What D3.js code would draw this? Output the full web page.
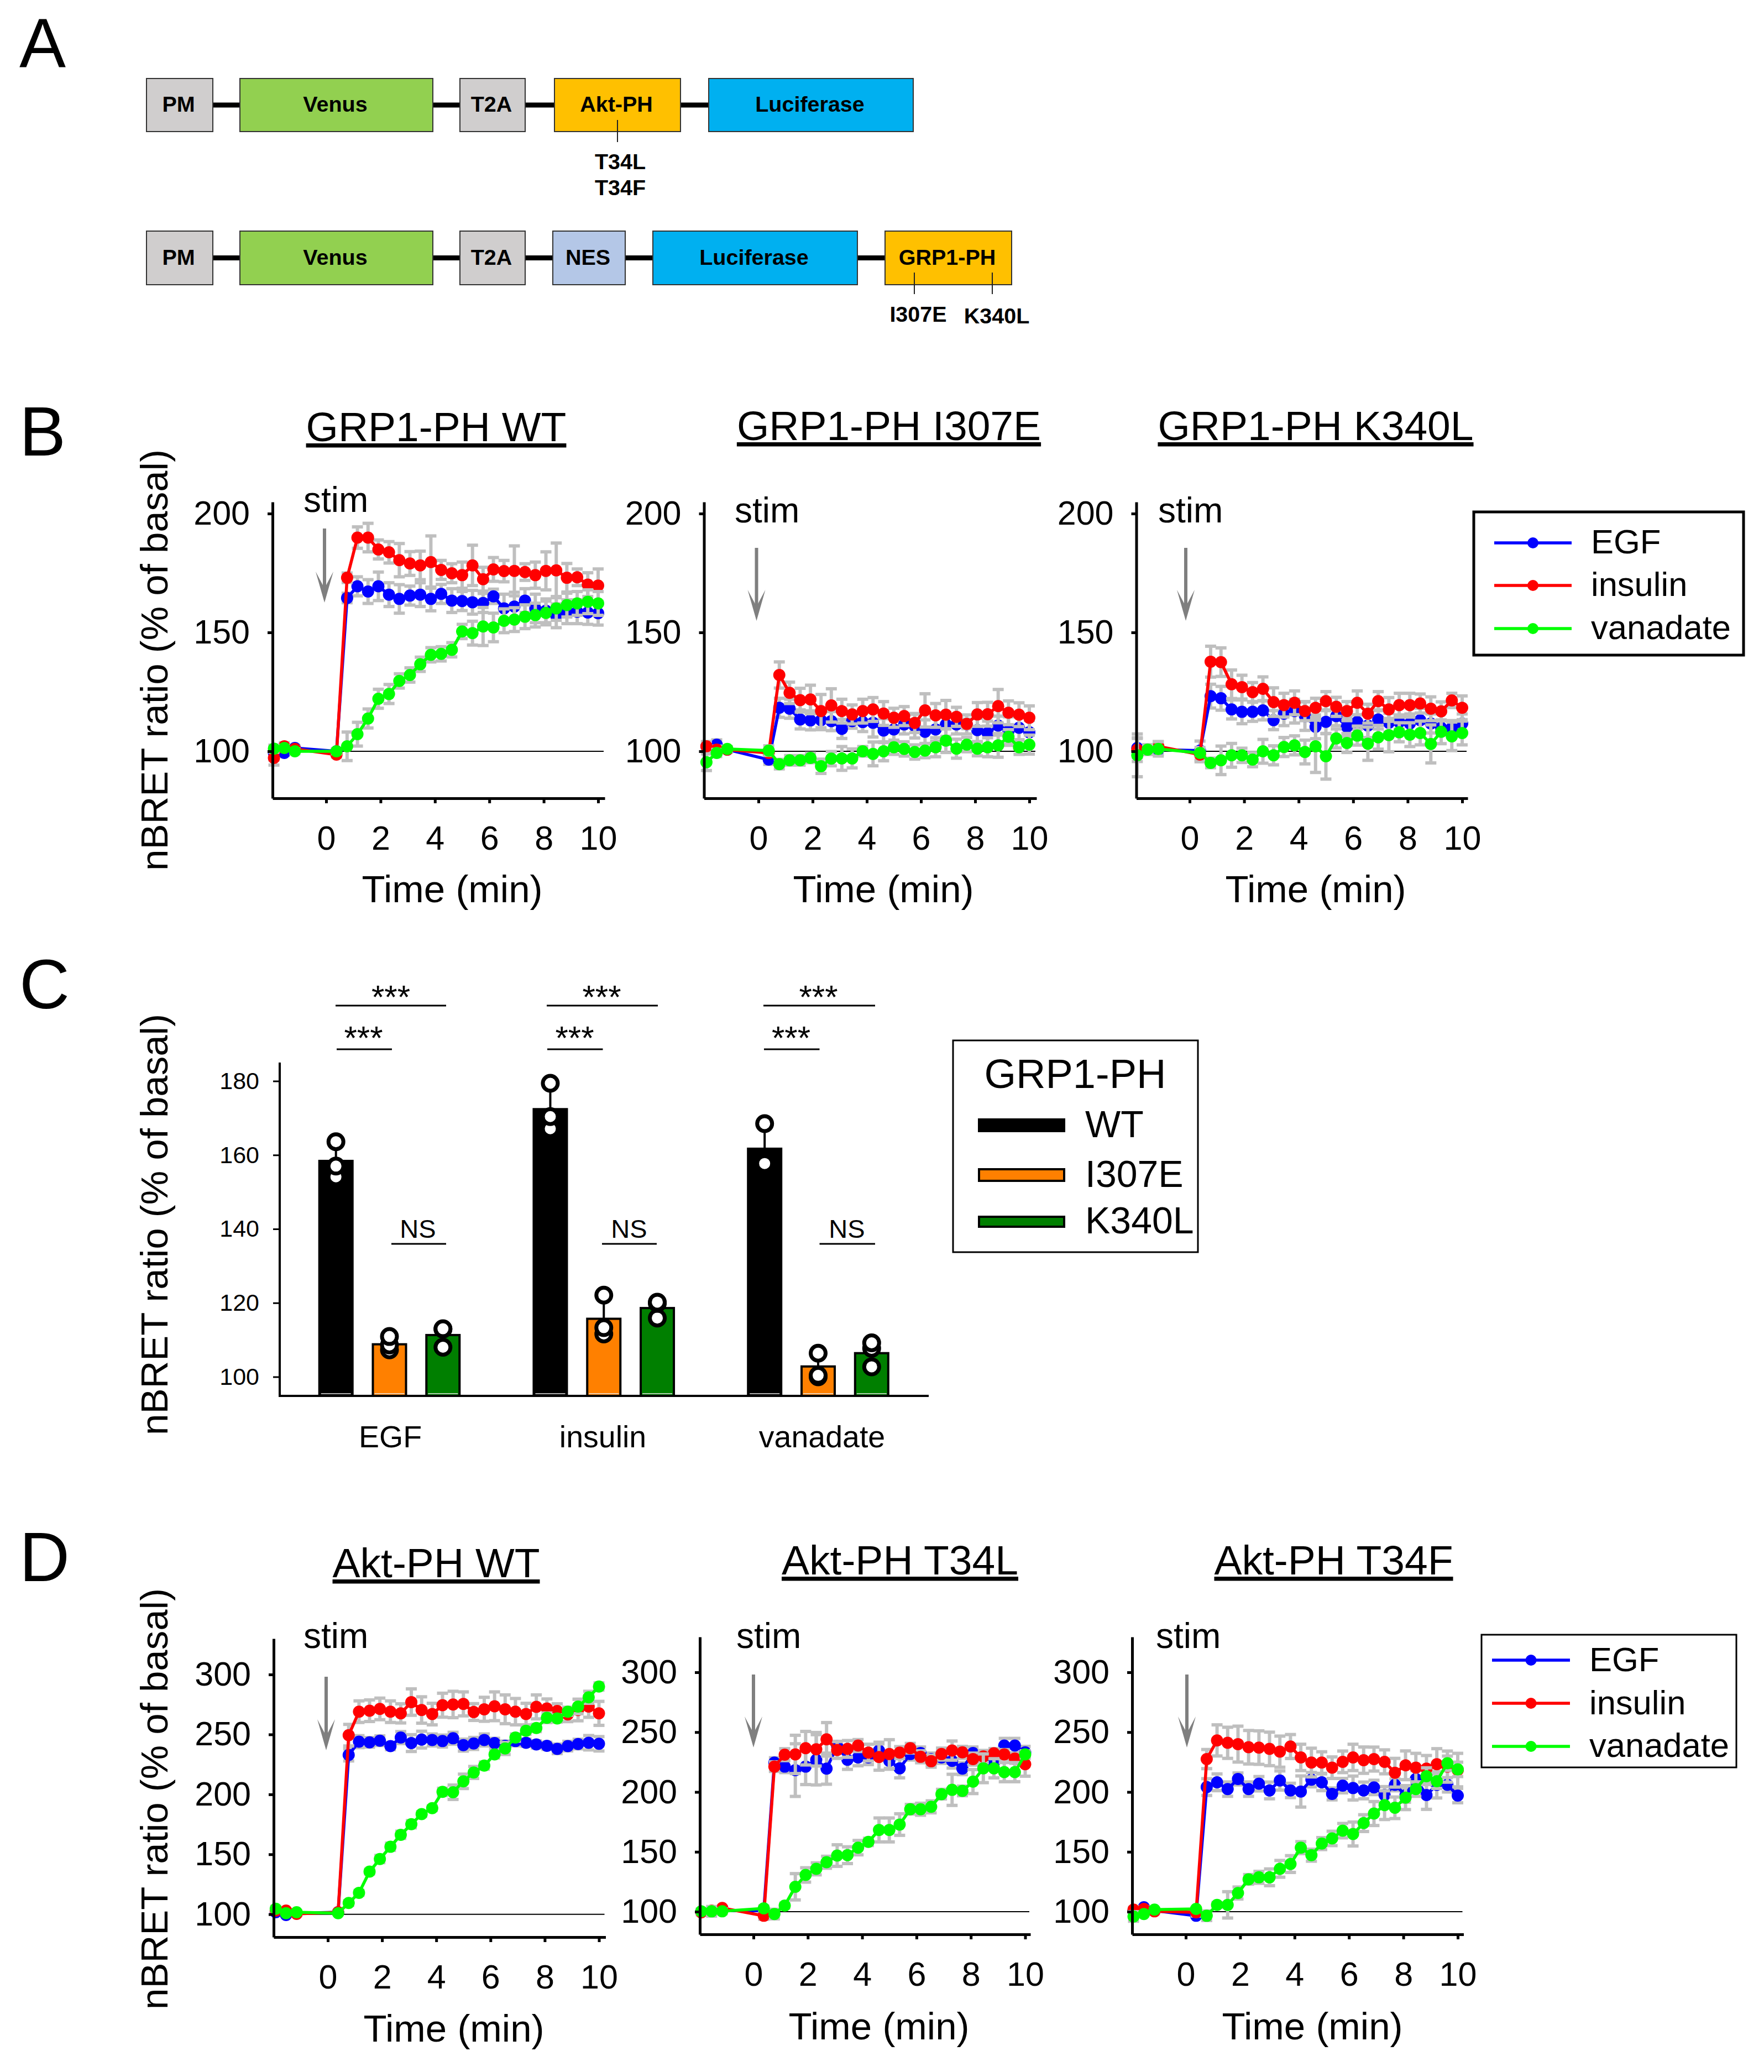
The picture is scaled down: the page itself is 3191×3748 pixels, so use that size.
<!DOCTYPE html>
<html>
<head>
<meta charset="utf-8">
<script src="https://cdn.jsdelivr.net/npm/d3@7/dist/d3.min.js"></script>
<style>
body { margin: 0; background: #fff; }
text { font-family: "Liberation Sans", Arial, sans-serif; fill: #000; }
</style>
</head>
<body>
<div id="viz"></div>
<script>
// sample times, minutes
const times = [-1.92, -1.54, -1.15, 0.38, 0.77, 1.15, 1.54, 1.92, 2.31, 2.69, 3.08, 3.46, 3.85, 4.23,
    4.62, 5.0, 5.38, 5.77, 6.15, 6.54, 6.92, 7.31, 7.69, 8.08, 8.46, 8.85, 9.23, 9.62, 10.0];
const seriesNames = ['EGF', 'insulin', 'vanadate'];

// GRP1-PH WT
const grpWtEgf = [99.3, 99.3, 101.4, 100, 164.5, 169.4, 167.2, 169.4, 165.9, 164.1, 165.5, 165.9, 164.1, 166.2, 163.4, 163.2, 162.7, 162.4, 165.2, 160.1, 160.9, 163.4, 160.1, 159.1, 157, 158.7, 158.7, 158.4, 158.1];
const grpWtEgfErr = [3, 1, 1, 1, 2, 4, 5, 6, 5, 6, 4, 5, 5, 4, 5, 4, 5, 4, 3, 6, 6, 5, 6, 5, 5, 5, 5, 5, 5];
const grpWtIns = [97.2, 102.1, 101, 98.6, 173, 189.9, 189.9, 184.9, 183.7, 180.4, 179, 178.2, 179.6, 176.3, 174.9, 174.1, 178.2, 172.4, 176.5, 175.8, 175.9, 175.4, 174.1, 175.9, 176.1, 173, 173.2, 170.1, 169.7];
const grpWtInsErr = [3, 1.5, 1, 1, 2, 4.5, 6, 4, 4.5, 7, 5, 6, 11, 4, 4, 5.5, 8.5, 5, 5, 4.5, 10.5, 3.5, 5.5, 8, 11.5, 6, 3.5, 5, 7];
const grpWtVan = [101.1, 101.4, 100, 100, 102.1, 107.2, 113.8, 122.1, 124.1, 129.6, 132.1, 136.6, 140.6, 141, 142.7, 150.4, 149.7, 152.5, 152.1, 154.9, 155.4, 156.6, 157.3, 158.2, 160.1, 161.5, 162.2, 162.9, 162.2];
const grpWtVanErr = [1.5, 1, 1, 1, 6, 5, 4, 4, 4, 3, 3, 3, 3, 3, 3, 3, 5, 8, 6, 5, 5, 5, 5, 5, 5, 5, 5, 5, 5];

// GRP1-PH I307E
const grpIEgf = [102.1, 102.8, 100.7, 96.5, 118.3, 117.9, 113.4, 113, 113.1, 112.7, 109.4, 112.7, 112.3, 112, 108.7, 109.2, 111.3, 110.6, 108.2, 109.2, 111.3, 111.3, 111.3, 108.9, 107.7, 110.8, 108.5, 109.9, 108];
const grpIEgfErr = [1.5, 2, 1, 2, 4, 4, 4, 4, 4, 4, 4, 3, 4, 6, 5, 5, 4, 5, 5, 5, 5, 4, 4, 5, 5, 4, 6, 5, 5];
const grpIIns = [102.1, 100.7, 100.7, 99.3, 132.1, 124.6, 121.5, 121.8, 116.9, 119.3, 116.9, 115.5, 116.9, 117.6, 115.9, 114.1, 114.8, 111.9, 117.2, 115.1, 115.4, 114.5, 111.5, 115.5, 115.6, 119, 116.2, 115.4, 114.1];
const grpIInsErr = [2, 1.5, 1, 1, 5.5, 4.5, 5, 6, 7, 7, 5, 4, 5, 5, 5, 4, 4, 4, 7, 5, 6, 4, 2, 5, 5, 7, 5, 5, 5];
const grpIVan = [95.4, 99.3, 101, 100.3, 94.6, 96.2, 96.2, 97.2, 93.7, 96.9, 97, 97, 100, 98.9, 100, 101.7, 101, 99.7, 100.3, 101.7, 104.5, 101.1, 102.8, 101.1, 101.7, 102.5, 106.1, 101.7, 102.8];
const grpIVanErr = [3.5, 1.5, 1, 2, 2, 2, 2, 2, 3, 3, 5, 4, 2, 5, 4, 3, 3, 3, 3, 4, 5, 4, 3, 3, 4, 5, 3, 3, 4];

// GRP1-PH K340L
const grpKEgf = [101.4, 100.7, 100.7, 100.3, 123.2, 122.3, 117.6, 116.6, 116.6, 117.2, 113.1, 115.8, 116.9, 114.8, 110.3, 112.4, 114.8, 110.3, 112.3, 110.8, 113.4, 112, 112.3, 111.7, 113.1, 111.7, 109.9, 109.9, 111.7];
const grpKEgfErr = [4, 1.5, 2, 4, 5, 5, 4, 5, 4, 4, 4, 5, 5, 6, 5, 5, 4, 4, 3, 5, 4, 4, 3, 4, 5, 4, 3, 3, 4];
const grpKIns = [100.7, 100.7, 102.1, 98.6, 137.7, 137.5, 128.2, 127, 124.9, 126.3, 120.7, 119.4, 120.4, 116.9, 118.3, 121.1, 118.7, 116.9, 120.4, 115.8, 121.1, 117.6, 119.4, 119.4, 120.1, 117.9, 116.8, 121.4, 118.3];
const grpKInsErr = [5, 2, 2, 3, 6.5, 6, 6, 5, 4, 5, 6, 5, 5, 4, 4, 4, 4, 4, 5, 4, 4, 5, 5, 5, 4, 5, 4, 3, 5];
const grpKVan = [98.3, 100.7, 101, 99.3, 95.1, 96.2, 98.3, 98.3, 96.5, 100, 98.3, 101.8, 102.5, 99.7, 102.1, 97.9, 105.4, 103.5, 106.6, 103.2, 105.9, 106.8, 108, 107, 107.7, 103.1, 108.2, 106.3, 107.7];
const grpKVanErr = [9, 2, 3, 1, 2, 6, 5, 3, 3, 5, 4, 4, 4, 5, 11, 9.6, 4, 4, 4, 7, 5, 7, 4, 5, 5, 8, 5, 6, 5];

// Akt-PH WT
const aktWtEgf = [101.7, 99.4, 100.9, 101.7, 232.9, 244, 243.4, 244.8, 240.3, 247.4, 242.8, 245.7, 245.4, 244.5, 246.8, 241.1, 242.5, 245.4, 242.8, 240.5, 244.5, 243.1, 241.7, 240.5, 238, 240.3, 242, 243.1, 242.2];
const aktWtEgfErr = [1, 1, 1, 1, 5, 5, 4, 4, 3, 5, 7, 7, 5, 5, 5, 5, 5, 5, 4, 4, 4, 3, 3, 3, 4, 4, 4, 6, 6];
const aktWtIns = [103.1, 103.1, 100.3, 101.7, 249.4, 269, 269.8, 271.3, 269, 267.6, 277, 270.4, 267, 274.4, 275, 275.5, 268.7, 271, 273.5, 271, 269, 267, 273, 271.6, 269.6, 266.7, 270.4, 273.3, 267.6];
const aktWtInsErr = [1, 1, 1, 1, 9, 9, 9, 9, 9, 8, 11, 11, 9, 10, 11, 10, 7, 10, 12, 12, 11, 9, 10, 8, 6, 6, 9, 9, 10];
const aktWtVan = [104.6, 100.9, 101.7, 100.9, 109.4, 117.9, 135.6, 146.1, 156.3, 166.3, 175.1, 183.6, 188.5, 202.1, 201.8, 210.9, 218.3, 224, 233.4, 238.3, 247.4, 253.1, 255.4, 263.9, 263.3, 269, 273.3, 281, 290];
const aktWtVanErr = [2, 1, 1, 1, 2, 2, 2, 3, 3, 3, 3, 2, 2, 3, 6, 6, 5, 3, 3, 5, 3, 3, 3, 4, 3, 3, 6, 5, 3];

// Akt-PH T34L
const aktLEgf = [100, 100, 100.9, 100.9, 224.6, 221.2, 218.3, 221.2, 226.9, 219.5, 238.3, 226.9, 228.9, 228.9, 234.6, 226, 219.8, 231.7, 232.6, 227.5, 228.9, 226, 219.5, 232.6, 227.5, 224.6, 238.8, 238.8, 233.1];
const aktLEgfErr = [1, 1, 1, 1, 4, 5, 22, 15, 21, 13, 4, 8, 7, 6, 7, 7, 8, 5, 5, 5, 5, 6, 5, 5, 6, 5, 6, 6, 5];
const aktLIns = [99.4, 100.9, 103.1, 96.6, 221.2, 231.2, 231.4, 236.6, 235.7, 244, 235.1, 236, 238.8, 232.9, 229.2, 231.7, 232.9, 236.6, 229.4, 225.7, 231.7, 234.6, 233.1, 227.5, 229.7, 232.3, 231.4, 228, 223.2];
const aktLInsErr = [2, 2, 1, 3, 4, 5, 16, 14, 14, 14, 7, 7, 5, 7, 11, 12, 5, 4, 5, 5, 5, 8, 5, 5, 5, 4, 4, 4, 10];
const aktLVan = [100.3, 100.3, 100.3, 102.8, 98, 105.1, 120.8, 130.7, 135.8, 141.3, 146.9, 147.2, 153.5, 158.3, 168.3, 168.3, 172.8, 185.6, 185.6, 187.6, 198.2, 201.8, 200.9, 208.7, 219.8, 219.8, 216.6, 216.6, 231.4];
const aktLVanErr = [2, 4, 2, 2, 4, 2, 11, 6, 5, 5, 9, 7, 6, 3, 10, 10, 9, 4, 5, 5, 4, 13, 4, 10, 12, 8, 8, 8, 3];

// Akt-PH T34F
const aktFEgf = [100.9, 103.7, 100.9, 96.6, 204.1, 208.1, 202.4, 210.9, 202.4, 206.9, 201.3, 209.6, 201.3, 200.4, 210.3, 208.1, 198.4, 205.3, 203.3, 201.3, 203.8, 197.5, 206, 197.5, 210.9, 197.5, 206, 206, 197];
const aktFEgfErr = [1, 1, 1, 1, 7, 7, 6, 5, 6, 6, 7, 8, 6, 13, 6, 7, 5, 6, 10, 7, 6, 7, 5, 6, 7, 12, 11, 6, 6];
const aktFIns = [101.7, 102.3, 100.3, 99.4, 227.5, 243.1, 241.1, 240, 237.4, 237.1, 236, 233.7, 238, 228.9, 224.6, 224.6, 220.3, 225.2, 228.9, 226.6, 227.5, 225.2, 216.1, 222.3, 220.3, 219.5, 223.2, 221.2, 218.3];
const aktFInsErr = [2, 2, 2, 3, 8, 13, 13, 15, 14, 14, 14, 13, 10, 11, 12, 9, 9, 9, 11, 11, 10, 10, 12, 12, 12, 11, 13, 13, 14];
const aktFVan = [96, 98, 101.7, 102.3, 96.6, 105.7, 105.7, 115.6, 127, 128.7, 128.7, 135.8, 139.8, 153.5, 147.2, 156.9, 161.2, 167.7, 164.9, 174, 182, 189, 186.8, 195.3, 202.4, 213.2, 209, 224, 218.9];
const aktFVanErr = [4, 1, 1, 1, 4, 2, 11, 5, 4, 5, 7, 7, 7, 5, 5, 5, 6, 6, 10, 7, 10, 12, 9, 10, 6, 7, 6, 6, 6];

// panel C
const barGroups = ['EGF', 'insulin', 'vanadate'];
const barVariants = ['WT', 'I307E', 'K340L'];
const barEgf = [158.4, 108.8, 111.3];
const barIns = [172.4, 115.7, 118.6];
const barVan = [161.7, 102.8, 106.4];
const barEgfErr = [4.8, 1.9, 2.9];
const barInsErr = [6.3, 5.6, 2.3];
const barVanErr = [6.2, 3.6, 3.5];
const ptsEgf = [[163.6, 157, 154.1], [110.9, 108.6, 107.3], [113, 112.9, 108]];
const ptsIns = [[179.4, 170.4, 167.1], [122.1, 113.3, 111.6], [120.2, 119.9, 115.9]];
const ptsVan = [[168.5, 157.5, 157.7], [106.4, 100.4, 100], [109.2, 107.7, 102.7]];

const lineColors = ['#0000ff', '#ff0000', '#00ff00'];
const barColors = ['#000000', '#ff8000', '#007f00'];
const ylab = 'nBRET ratio (% of basal)';

const svg = d3.select('#viz').append('svg')
    .attr('width', 3191)
    .attr('height', 3748)
    .style('display', 'block');

function label(txt, x, y, size, opts) {
    opts = opts || {};
    return svg.append('text')
	.attr('x', x)
	.attr('y', y)
	.attr('font-size', size)
	.attr('font-weight', opts.bold ? 'bold' : null)
	.attr('text-anchor', opts.anchor || 'start')
	.style('text-decoration', opts.under ? 'underline' : null)
	.text(txt);
}

function yLabel(cy) {
    svg.append('text')
	.attr('transform', `translate(303,${cy}) rotate(-90)`)
	.attr('font-size', 69)
	.attr('text-anchor', 'middle')
	.text(ylab);
}

// panel letters
[['A', 121], ['B', 824], ['C', 1824], ['D', 2860]].forEach(d => label(d[0], 35, d[1], 126));

// panel A, constructs
const rowOne = [['PM', 265, 385, '#d0cece'], ['Venus', 434, 783, '#92d050'], ['T2A', 832, 950, '#d0cece'],
    ['Akt-PH', 1003, 1231, '#ffc000'], ['Luciferase', 1282, 1652, '#00b0f0']];
const rowTwo = [['PM', 265, 385, '#d0cece'], ['Venus', 434, 783, '#92d050'], ['T2A', 832, 950, '#d0cece'],
    ['NES', 1000, 1131, '#b4c7e7'], ['Luciferase', 1181, 1551, '#00b0f0'], ['GRP1-PH', 1601, 1830, '#ffc000']];

function construct(row, top, bottom) {
    const mid = (top + bottom) / 2;
    svg.append('line').attr('x1', row[0][1]).attr('x2', row[row.length - 1][2])
	.attr('y1', mid).attr('y2', mid).attr('stroke', '#000').attr('stroke-width', 9);
    row.forEach(b => {
	svg.append('rect').attr('x', b[1]).attr('y', top).attr('width', b[2] - b[1]).attr('height', bottom - top)
	    .attr('fill', b[3]).attr('stroke', '#333').attr('stroke-width', 2);
	label(b[0], (b[1] + b[2]) / 2 - 2, mid + 12, 39.5, { bold: true, anchor: 'middle' });
    });
}
construct(rowOne, 142, 238);
construct(rowTwo, 418, 515);

[[1117, 217, 257], [1654, 493, 532], [1795, 493, 532]].forEach(d => {
    svg.append('line').attr('x1', d[0]).attr('x2', d[0]).attr('y1', d[1]).attr('y2', d[2])
	.attr('stroke', '#222').attr('stroke-width', 2);
});
label('T34L', 1122, 306, 39.5, { bold: true, anchor: 'middle' });
label('T34F', 1122, 353, 39.5, { bold: true, anchor: 'middle' });
label('I307E', 1661, 582, 39.5, { bold: true, anchor: 'middle' });
label('K340L', 1803, 585, 39.5, { bold: true, anchor: 'middle' });

// time course panels
function timePanel(p) {
    const pxPerMin = (p.x10 - p.x0) / 10;
    const x = d3.scaleLinear()
	.domain([(p.left - p.x0) / pxPerMin, (p.right - p.x0) / pxPerMin])
	.range([p.left, p.right]);
    const pxPerUnit = (p.yBase - p.yTick) / (p.ticks[p.ticks.length - 1] - 100);
    const y = d3.scaleLinear()
	.domain([100 - (p.bottom - p.yBase) / pxPerUnit, 100 + (p.yBase - p.top) / pxPerUnit])
	.range([p.bottom, p.top]);

    const g = svg.append('g');

    g.append('line').attr('x1', p.left).attr('x2', p.right - 2)
	.attr('y1', y(100)).attr('y2', y(100))
	.attr('stroke', '#000').attr('stroke-width', 2);

    p.series.forEach((s, si) => {
	const col = lineColors[si];
	const bars = g.append('g').attr('stroke', '#bfbfbf').attr('stroke-width', 6);
	times.forEach((t, i) => {
	    const hi = y(s.v[i] + s.e[i]);
	    const lo = y(s.v[i] - s.e[i]);
	    bars.append('line').attr('x1', x(t)).attr('x2', x(t)).attr('y1', hi).attr('y2', lo);
	    bars.append('line').attr('x1', x(t) - 10).attr('x2', x(t) + 10).attr('y1', hi).attr('y2', hi);
	    bars.append('line').attr('x1', x(t) - 10).attr('x2', x(t) + 10).attr('y1', lo).attr('y2', lo);
	});
	const line = d3.line().x((d, i) => x(times[i])).y(d => y(d));
	g.append('path').attr('d', line(s.v))
	    .attr('fill', 'none').attr('stroke', col).attr('stroke-width', 5.5);
	g.selectAll(null).data(s.v).enter().append('circle')
	    .attr('cx', (d, i) => x(times[i]))
	    .attr('cy', d => y(d))
	    .attr('r', 11)
	    .attr('fill', col);
    });

    const yAxis = d3.axisLeft(y).tickValues(p.ticks).tickSize(9).tickSizeOuter(0).tickPadding(32);
    const xAxis = d3.axisBottom(x).tickValues([0, 2, 4, 6, 8, 10]).tickSize(9).tickSizeOuter(0).tickPadding(41);
    [g.append('g').attr('transform', `translate(${p.left},0)`).call(yAxis),
     g.append('g').attr('transform', `translate(0,${p.bottom})`).call(xAxis)].forEach(a => {
	a.select('.domain').attr('stroke', '#000').attr('stroke-width', 5);
	a.selectAll('.tick line').attr('stroke', '#000').attr('stroke-width', 5);
	a.selectAll('.tick text').attr('font-size', 61).style('font-family', '"Liberation Sans", Arial, sans-serif');
    });

    label(p.title, p.titleX, p.titleY, 75, { anchor: 'middle', under: true });
    label('Time (min)', p.xLabelX, p.xLabelY, 69, { anchor: 'middle' });
    label('stim', p.stimX - 1, p.stimY, 64);

    // stimulus arrow
    g.append('line').attr('x1', p.arrowX).attr('x2', p.arrowX).attr('y1', p.arrowTop).attr('y2', p.arrowTip - 20)
	.attr('stroke', '#7f7f7f').attr('stroke-width', 6);
    g.append('path')
	.attr('d', `M${p.arrowX},${p.arrowTip}L${p.arrowX - 16},${p.arrowTip - 56}L${p.arrowX},${p.arrowTip - 26}L${p.arrowX + 16},${p.arrowTip - 56}Z`)
	.attr('fill', '#7f7f7f');
}

const grpTicks = [100, 150, 200];
const aktTicks = [100, 150, 200, 250, 300];
timePanel({ title: 'GRP1-PH WT', titleX: 789, titleY: 798, left: 493, right: 1094, x0: 590, x10: 1082,
    top: 908, bottom: 1444, yBase: 1359, yTick: 929, ticks: grpTicks, xLabelX: 818, xLabelY: 1632,
    stimX: 550, stimY: 926, arrowX: 587, arrowTop: 956, arrowTip: 1090,
    series: [{ v: grpWtEgf, e: grpWtEgfErr }, { v: grpWtIns, e: grpWtInsErr }, { v: grpWtVan, e: grpWtVanErr }] });
timePanel({ title: 'GRP1-PH I307E', titleX: 1608, titleY: 796, left: 1273.5, right: 1875, x0: 1372, x10: 1862,
    top: 908, bottom: 1444, yBase: 1359, yTick: 929, ticks: grpTicks, xLabelX: 1598, xLabelY: 1632,
    stimX: 1330, stimY: 945, arrowX: 1368.5, arrowTop: 991, arrowTip: 1123,
    series: [{ v: grpIEgf, e: grpIEgfErr }, { v: grpIIns, e: grpIInsErr }, { v: grpIVan, e: grpIVanErr }] });
timePanel({ title: 'GRP1-PH K340L', titleX: 2380, titleY: 796, left: 2055.5, right: 2655, x0: 2152, x10: 2645,
    top: 908, bottom: 1444, yBase: 1359, yTick: 929, ticks: grpTicks, xLabelX: 2380, xLabelY: 1632,
    stimX: 2096, stimY: 945, arrowX: 2145, arrowTop: 991, arrowTip: 1123,
    series: [{ v: grpKEgf, e: grpKEgfErr }, { v: grpKIns, e: grpKInsErr }, { v: grpKVan, e: grpKVanErr }] });
timePanel({ title: 'Akt-PH WT', titleX: 789, titleY: 2853, left: 495, right: 1095.5, x0: 593, x10: 1083.5,
    top: 2964, bottom: 3504, yBase: 3462.7, yTick: 3029, ticks: aktTicks, xLabelX: 821, xLabelY: 3693,
    stimX: 550, stimY: 2981, arrowX: 590, arrowTop: 3033, arrowTip: 3166,
    series: [{ v: aktWtEgf, e: aktWtEgfErr }, { v: aktWtIns, e: aktWtInsErr }, { v: aktWtVan, e: aktWtVanErr }] });
timePanel({ title: 'Akt-PH T34L', titleX: 1628, titleY: 2848, left: 1266, right: 1864, x0: 1363, x10: 1854.5,
    top: 2961, bottom: 3499, yBase: 3458, yTick: 3025, ticks: aktTicks, xLabelX: 1590, xLabelY: 3689,
    stimX: 1333, stimY: 2981, arrowX: 1363, arrowTop: 3029, arrowTip: 3161,
    series: [{ v: aktLEgf, e: aktLEgfErr }, { v: aktLIns, e: aktLInsErr }, { v: aktLVan, e: aktLVanErr }] });
timePanel({ title: 'Akt-PH T34F', titleX: 2412.5, titleY: 2848, left: 2048, right: 2647.5, x0: 2145, x10: 2637,
    top: 2961, bottom: 3499, yBase: 3458, yTick: 3025, ticks: aktTicks, xLabelX: 2374, xLabelY: 3689,
    stimX: 2092, stimY: 2981, arrowX: 2147, arrowTop: 3029, arrowTip: 3161,
    series: [{ v: aktFEgf, e: aktFEgfErr }, { v: aktFIns, e: aktFInsErr }, { v: aktFVan, e: aktFVanErr }] });

yLabel(1194);
yLabel(2215);
yLabel(3254);

// legends for the time course panels
function lineLegend(bx, by, bw, bh, sw, lineX1, lineX2, ys, textX, textYs) {
    svg.append('rect').attr('x', bx).attr('y', by).attr('width', bw).attr('height', bh)
	.attr('fill', '#fff').attr('stroke', '#000').attr('stroke-width', sw);
    seriesNames.forEach((n, i) => {
	svg.append('line').attr('x1', lineX1).attr('x2', lineX2).attr('y1', ys[i]).attr('y2', ys[i])
	    .attr('stroke', lineColors[i]).attr('stroke-width', 5.5);
	svg.append('circle').attr('cx', (lineX1 + lineX2) / 2).attr('cy', ys[i]).attr('r', 10).attr('fill', lineColors[i]);
	label(n, textX, textYs[i], 61.5);
    });
}
lineLegend(2666, 926, 488, 259, 5, 2703, 2843, [982, 1059, 1137], 2878, [1001, 1078, 1156]);
lineLegend(2680, 2957, 461, 240, 3, 2699, 2840, [3003, 3081, 3159], 2875, [3023, 3101, 3178]);

// panel C
const yBar = d3.scaleLinear().domain([95, 100, 180]).range([2525, 2490.5, 1955.5]);
const yTop = 1922;
const groupX = d3.scalePoint().domain(barGroups).range([704.5, 1480]);
const varX = d3.scalePoint().domain(barVariants).range([-96.8, 96.8]);
const barW = 60;

const barData = [[barEgf, barEgfErr, ptsEgf], [barIns, barInsErr, ptsIns], [barVan, barVanErr, ptsVan]];
const gBars = svg.append('g');
barGroups.forEach((grp, gi) => {
    barVariants.forEach((v, vi) => {
	const cx = groupX(grp) + varX(v);
	const val = barData[gi][0][vi];
	const err = barData[gi][1][vi];
	gBars.append('line').attr('x1', cx).attr('x2', cx).attr('y1', yBar(val)).attr('y2', yBar(val + err))
	    .attr('stroke', '#000').attr('stroke-width', 4);
	gBars.append('rect').attr('x', cx - barW / 2).attr('y', yBar(val))
	    .attr('width', barW).attr('height', yBar(95) - yBar(val))
	    .attr('fill', barColors[vi]).attr('stroke', '#000').attr('stroke-width', 4);
	gBars.append('line').attr('x1', cx - 27).attr('x2', cx + 27).attr('y1', 2521).attr('y2', 2521)
	    .attr('stroke', '#e6e6e6').attr('stroke-width', 1.5);
	// lowest point first so the upper rings sit on top
	barData[gi][2][vi].slice().sort(d3.ascending).forEach(pt => {
	    gBars.append('circle').attr('cx', cx).attr('cy', yBar(pt)).attr('r', 13.5)
		.attr('fill', '#fff').attr('stroke', '#000').attr('stroke-width', 7);
	});
    });
});

const barAxis = d3.axisLeft(yBar).tickValues([100, 120, 140, 160, 180]).tickSize(12).tickSizeOuter(0).tickPadding(25);
const barAxisG = svg.append('g').attr('transform', 'translate(506,0)').call(barAxis);
barAxisG.select('.domain').attr('d', `M0,${yTop}V${yBar(95)}`).attr('stroke', '#000').attr('stroke-width', 4);
barAxisG.selectAll('.tick line').attr('stroke', '#000').attr('stroke-width', 3);
barAxisG.selectAll('.tick text').attr('font-size', 43).style('font-family', '"Liberation Sans", Arial, sans-serif');
svg.append('line').attr('x1', 504).attr('x2', 1680).attr('y1', yBar(95)).attr('y2', yBar(95))
    .attr('stroke', '#000').attr('stroke-width', 4);

[['EGF', 706], ['insulin', 1090.5], ['vanadate', 1487]].forEach(d => label(d[0], d[1], 2618, 55.5, { anchor: 'middle' }));

const sigLines = [[607, 807, 1819], [609, 709, 1898], [708, 807, 2250],
    [989, 1190, 1819], [990, 1090.5, 1898], [1089, 1188, 2250],
    [1381, 1583, 1819], [1382, 1482.5, 1898], [1482.5, 1583, 2250]];
sigLines.forEach(d => {
    svg.append('line').attr('x1', d[0]).attr('x2', d[1]).attr('y1', d[2]).attr('y2', d[2])
	.attr('stroke', '#000').attr('stroke-width', 3);
});
[[707, 1824], [657.5, 1898], [1088.5, 1824], [1039.5, 1898], [1480.5, 1824], [1431, 1898]].forEach(d => {
    label('***', d[0], d[1], 60, { anchor: 'middle' });
});
[756, 1138, 1532].forEach(x => label('NS', x, 2239, 47, { anchor: 'middle' }));

// panel C legend
svg.append('rect').attr('x', 1724).attr('y', 1882).attr('width', 443).attr('height', 383)
    .attr('fill', '#fff').attr('stroke', '#000').attr('stroke-width', 3);
label('GRP1-PH', 1945, 1968, 74, { anchor: 'middle' });
[[2025, 2046, 2057], [2115, 2136, 2147], [2201, 2219, 2231]].forEach((d, i) => {
    svg.append('rect').attr('x', 1771).attr('y', d[0]).attr('width', 154).attr('height', d[1] - d[0])
	.attr('fill', barColors[i]).attr('stroke', '#000').attr('stroke-width', 4);
    label(barVariants[i], 1963, d[2], 68);
});
</script>
</body>
</html>
